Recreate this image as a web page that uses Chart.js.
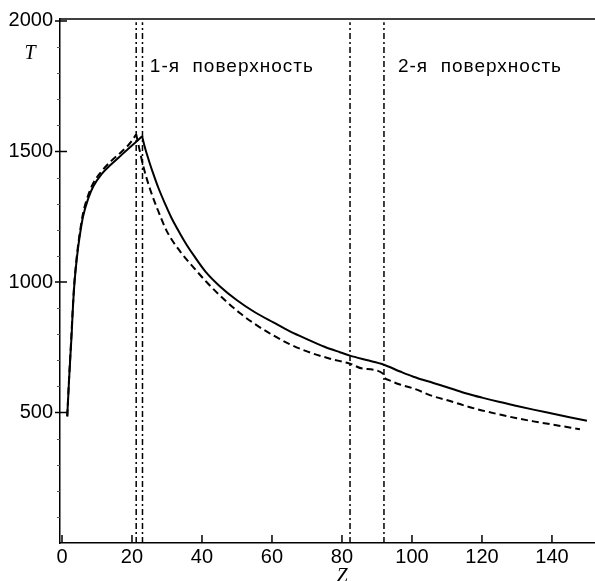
<!DOCTYPE html>
<html>
<head>
<meta charset="utf-8">
<script src="https://cdn.jsdelivr.net/npm/chart.js@4"></script>
<style>
  html, body { margin: 0; padding: 0; background: #fff; }
  #wrap { width: 595px; height: 581px; position: relative; }
</style>
</head>
<body>
<div id="wrap"><canvas id="grafico"></canvas></div>
<script>
// Температура T вдоль оси Z (сплошная и штриховая кривые)
const zSolid = [1.5, 2.0, 2.5, 2.8, 3.0, 3.5, 4.0, 4.5, 5.0, 6.0, 7.5, 9.0, 11.3, 14.0, 17.1, 20.0, 22.9,
  23.5, 24.2, 25.0, 26.0, 27.5, 29.5, 31.3, 33.7, 35.6, 38.0, 41.0, 45.0, 50.0, 55.0, 60.4, 65.0, 70.0,
  75.0, 79.4, 82.3, 87.0, 91.8, 96.6, 100.4, 106.1, 110.9, 115.6, 120.0, 125.1, 130.0, 134.7, 140.0, 145.0, 150.0];
const tSolid = [485, 620, 740, 810, 870, 985, 1060, 1120, 1170, 1250, 1320, 1368, 1413, 1450, 1488, 1523, 1558,
  1525, 1492, 1458, 1418, 1362, 1298, 1245, 1186, 1143, 1095, 1040, 985, 930, 885, 845, 812, 781,
  752, 731, 718, 701, 684, 657, 637, 613, 593, 573, 557, 540, 525, 511, 496, 482, 468];

const zDashed = [1.5, 2.0, 2.5, 3.0, 3.5, 4.0, 4.5, 5.0, 6.0, 7.5, 9.0, 11.3, 14.0, 17.1, 19.0, 20.2, 21.2,
  22.1, 23.2, 25.1, 27.5, 29.9, 33.7, 37.5, 41.3, 45.0, 50.9, 55.0, 60.4, 65.0, 70.0, 76.6, 82.3, 86.0,
  91.9, 92.1, 93.2, 96.6, 100.4, 106.1, 110.9, 115.6, 120.0, 125.1, 130.0, 134.7, 140.0, 148.0];
const tDashed = [485, 625, 748, 878, 992, 1068, 1130, 1180, 1262, 1333, 1380, 1424, 1463, 1500, 1525, 1545, 1566,
  1510, 1445, 1358, 1272, 1196, 1118, 1057, 1000, 950, 880, 840, 795, 762, 734, 706, 687, 668,
  647, 635, 625, 607, 592, 562, 544, 524, 508, 492, 478, 466, 454, 436];

// границы поверхностей (вертикальные штрихпунктирные линии)
const zSurfaces = [21.2, 23.0, 82.3, 92.0];
const surfaceLabels = ['1-я  поверхность', '2-я  поверхность'];
const surfaceLabelZ = [25.1, 96.0];

const xTicks = [0, 20, 40, 60, 80, 100, 120, 140];
const yTicks = [500, 1000, 1500, 2000];

const toPoints = (xs, ys) => xs.map((x, i) => ({ x: x, y: ys[i] }));

// кривая делится в максимуме, чтобы пик остался острым, а ветви гладкими
function branches(xs, ys) {
  const pts = toPoints(xs, ys);
  let k = 0;
  ys.forEach((v, i) => { if (v > ys[k]) k = i; });
  return [pts.slice(0, k + 1), pts.slice(k)];
}

const datasets = [];
branches(zSolid, tSolid).forEach(part => {
  datasets.push({ data: part, borderColor: '#000', borderWidth: 2, showLine: true, pointRadius: 0,
    cubicInterpolationMode: 'monotone' });
});
branches(zDashed, tDashed).forEach(part => {
  datasets.push({ data: part, borderColor: '#000', borderWidth: 2, borderDash: [7, 4], showLine: true,
    pointRadius: 0, cubicInterpolationMode: 'monotone' });
});
zSurfaces.forEach(z => {
  datasets.push({
    data: [{ x: z, y: 0 }, { x: z, y: 1995 }],
    borderColor: '#000', borderWidth: 1.5, borderDash: [6, 3, 2, 3],
    showLine: true, pointRadius: 0
  });
});

// рамка, засечки и подписи
const framePlugin = {
  id: 'frame',
  afterDraw(chart) {
    const ctx = chart.ctx;
    const a = chart.chartArea;
    const xs = chart.scales.x, ys = chart.scales.y;
    ctx.save();
    ctx.strokeStyle = '#000';
    ctx.lineWidth = 1.5;
    ctx.beginPath();
    ctx.moveTo(a.left, a.top);
    ctx.lineTo(a.right, a.top);
    ctx.stroke();

    ctx.beginPath();
    yTicks.forEach(v => {
      const py = ys.getPixelForValue(v);
      ctx.moveTo(a.left - 5, py);
      ctx.lineTo(a.left + 7, py);
    });
    xTicks.forEach(v => {
      const px = xs.getPixelForValue(v);
      ctx.moveTo(px, a.bottom);
      ctx.lineTo(px, a.bottom - 8);
    });
    ctx.stroke();

    ctx.lineWidth = 1;
    ctx.strokeStyle = '#555';
    ctx.beginPath();
    for (let v = 100; v < 2000; v += 100) {
      if (v % 500 === 0) continue;
      const py = Math.round(ys.getPixelForValue(v)) + 0.5;
      ctx.moveTo(a.left - 3, py);
      ctx.lineTo(a.left, py);
    }
    ctx.stroke();

    ctx.fillStyle = '#000';
    ctx.font = '19px "Liberation Sans", Arial, sans-serif';
    ctx.letterSpacing = '1px';
    ctx.textAlign = 'left';
    ctx.textBaseline = 'alphabetic';
    surfaceLabels.forEach((t, i) => {
      ctx.fillText(t, xs.getPixelForValue(surfaceLabelZ[i]), ys.getPixelForValue(1805));
    });
    ctx.letterSpacing = '0px';

    ctx.font = 'italic 20px "Liberation Serif", "Times New Roman", serif';
    ctx.textAlign = 'center';
    ctx.fillText('T', 30, 59);
    ctx.fillText('Z', xs.getPixelForValue(80), 582);
    ctx.restore();
  }
};

const tickFont = { family: '"Liberation Sans", Arial, sans-serif', size: 20 };

const grafico = new Chart(document.getElementById('grafico').getContext('2d'), {
  type: 'scatter',
  data: { datasets: datasets },
  options: {
    responsive: true,
    maintainAspectRatio: false,
    animation: false,
    layout: { padding: { top: 13, right: 0, bottom: 0, left: 0 } },
    plugins: { legend: { display: false }, tooltip: { enabled: false } },
    scales: {
      x: {
        type: 'linear',
        min: -0.57,
        max: 152.3,
        afterFit(s) { s.height = 38; },
        afterBuildTicks(s) { s.ticks = xTicks.map(v => ({ value: v })); },
        grid: { display: false, drawTicks: false },
        border: { display: true, color: '#000', width: 1.5 },
        ticks: { font: tickFont, color: '#000', padding: 2, maxRotation: 0, autoSkip: false,
          callback: v => String(v) }
      },
      y: {
        type: 'linear',
        min: 0,
        max: 2007.6,
        afterFit(s) { s.width = 60; },
        afterBuildTicks(s) { s.ticks = yTicks.map(v => ({ value: v })); },
        grid: { display: false, drawTicks: false },
        border: { display: true, color: '#000', width: 1.5 },
        ticks: { font: tickFont, color: '#000', padding: 7, autoSkip: false,
          callback: v => String(v) }
      }
    }
  },
  plugins: [framePlugin]
});
</script>
</body>
</html>
